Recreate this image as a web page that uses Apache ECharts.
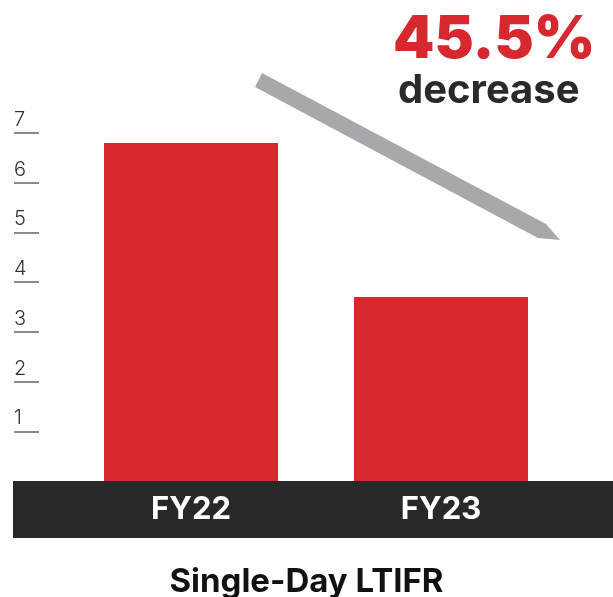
<!DOCTYPE html>
<html>
<head>
<meta charset="utf-8">
<script src="https://cdn.jsdelivr.net/npm/echarts@6/dist/echarts.min.js"></script>
<style>
  html, body { margin: 0; padding: 0; background: #fff; }
  #chart { width: 613px; height: 597px; }
</style>
</head>
<body>
<div id="chart"></div>
<script>
// data
var years = ['FY22', 'FY23'];
var ltifr = [6.8, 3.7];
var yTicks = [1, 2, 3, 4, 5, 6, 7];
var changeText = '45.5%';

var chart = echarts.init(document.getElementById('chart'));

var option = {
    animation: false,
    title: {
        text: 'Single-Day LTIFR',
        left: 'center',
        top: 561,
        textStyle: { fontFamily: 'Inter', fontSize: 33, fontWeight: 'bold', color: '#111' }
    },
    grid: { left: 66, right: 47, top: 133, bottom: 116 },
    xAxis: {
        type: 'category',
        data: years,
        axisLine: { show: false },
        axisTick: { show: false },
        axisLabel: {
            margin: 29,
            verticalAlign: 'middle',
            color: '#fff',
            fontFamily: 'Inter',
            fontWeight: 'bold',
            fontSize: 31
        },
        z: 5
    },
    yAxis: {
        type: 'value',
        min: 0,
        max: 7,
        interval: 1,
        offset: 27,
        splitLine: { show: false },
        axisLine: { show: false },
        axisTick: {
            show: true,
            length: 25,
            customValues: yTicks,
            lineStyle: { color: '#8a8a8a', width: 2 }
        },
        axisLabel: {
            customValues: yTicks,
            align: 'left',
            verticalAlign: 'bottom',
            margin: 25,
            padding: [0, 0, 3, 0],
            color: '#333',
            fontFamily: 'Inter',
            fontWeight: 300,
            fontSize: 20
        }
    },
    graphic: [
        {
            type: 'rect',
            z: 1,
            shape: { x: 13, y: 481, width: 600, height: 57 },
            style: { fill: '#282828' }
        },
        {
            type: 'polygon',
            shape: { points: [[262, 73], [546, 224], [560, 240], [538, 238], [255, 87]] },
            style: { fill: '#a7a8ab' }
        },
        {
            type: 'text',
            left: 393,
            top: 11,
            style: { text: changeText, fill: '#d7282f', font: '900 59px Inter' }
        },
        {
            type: 'text',
            left: 398,
            top: 71,
            style: { text: 'decrease', fill: '#2a2a2a', font: 'bold 40px Inter' }
        }
    ],
    series: [
        {
            type: 'bar',
            data: ltifr,
            barWidth: 174,
            itemStyle: { color: '#d7282f' }
        }
    ]
};

chart.setOption(option);
</script>
</body>
</html>
